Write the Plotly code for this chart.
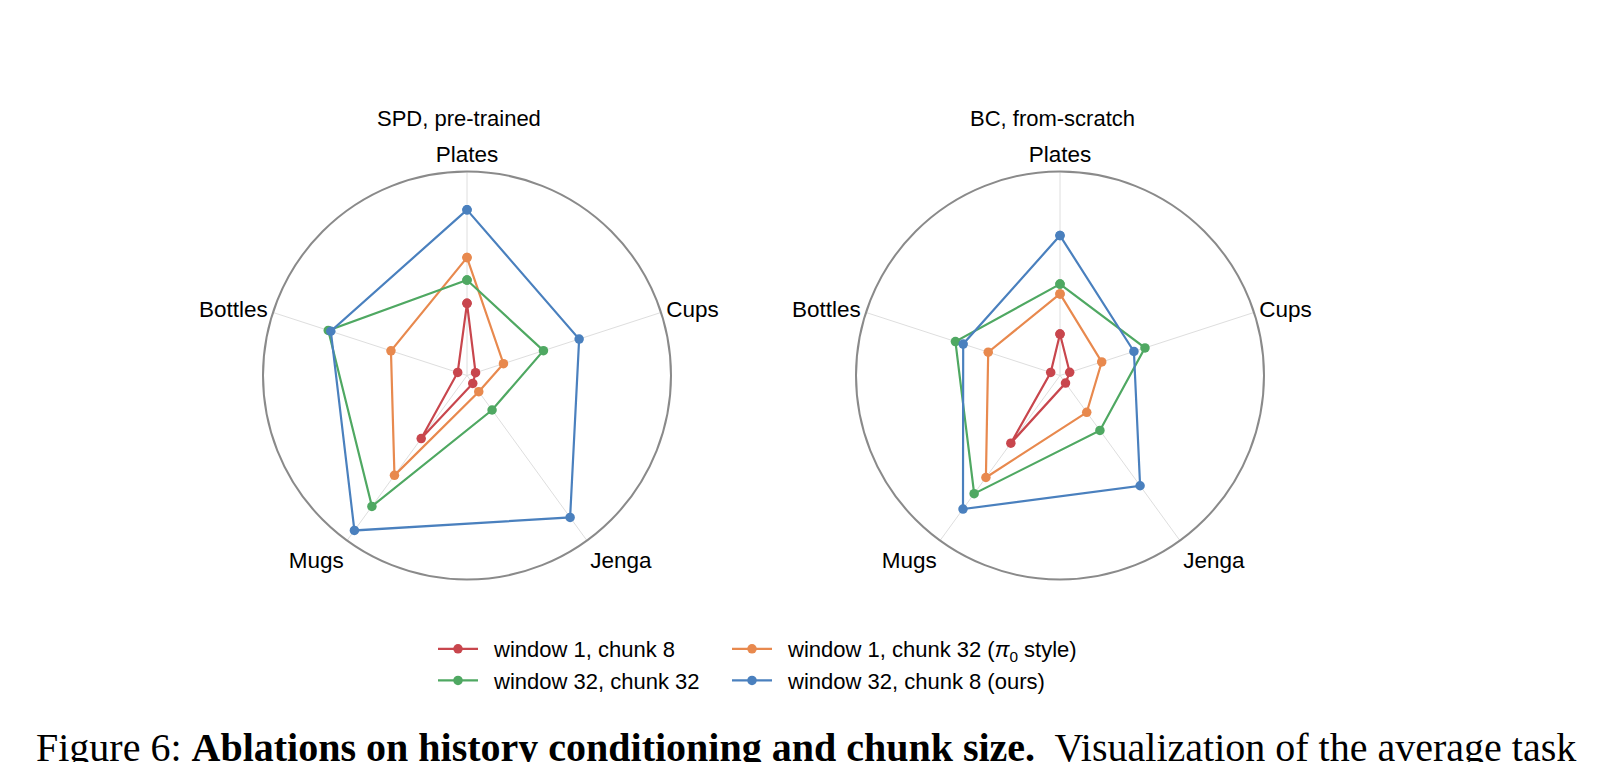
import plotly.graph_objects as go

categories = ["Plates", "Cups", "Jenga", "Mugs", "Bottles"]

series_names = [
    "window 1, chunk 8",
    "window 1, chunk 32 (<i>π</i><sub>0</sub> style)",
    "window 32, chunk 32",
    "window 32, chunk 8 (ours)",
]
series_colors = ["#c8464d", "#e8894e", "#4fa862", "#4a80be"]
series_legends = ["legend", "legend2", "legend", "legend2"]

# SPD, pre-trained
spd_red = [0.354, 0.044, 0.048, 0.382, 0.048]
spd_orange = [0.578, 0.188, 0.098, 0.605, 0.392]
spd_green = [0.468, 0.394, 0.209, 0.793, 0.715]
spd_blue = [0.812, 0.578, 0.860, 0.939, 0.702]

# BC, from-scratch
bc_red = [0.203, 0.050, 0.046, 0.410, 0.048]
bc_orange = [0.400, 0.215, 0.223, 0.618, 0.370]
bc_green = [0.448, 0.438, 0.333, 0.716, 0.539]
bc_blue = [0.686, 0.381, 0.668, 0.809, 0.499]

panel_titles = ["SPD, pre-trained", "BC, from-scratch"]
caption_html = ("Figure 6: <b>Ablations on history conditioning and chunk size.</b>"
                "  Visualization of the average task")

W, H = 1600, 762
OFF = 8  # page body margin offset
FONT = "Liberation Sans, Arial, Helvetica, sans-serif"

panels = [
    [spd_red, spd_orange, spd_green, spd_blue],
    [bc_red, bc_orange, bc_green, bc_blue],
]

fig = go.Figure()
for p, data in enumerate(panels):
    subplot = "polar" if p == 0 else "polar2"
    for i, vals in enumerate(data):
        fig.add_trace(go.Scatterpolar(
            r=vals + [vals[0]],
            theta=categories + [categories[0]],
            mode="lines+markers",
            name="\u2002" + series_names[i],
            line=dict(color=series_colors[i], width=2.2),
            marker=dict(color=series_colors[i], size=9.5),
            subplot=subplot,
            legend=series_legends[i],
            showlegend=(p == 0),
            legendrank=i,
        ))

centers_px = [(467 - OFF, 375.5 - OFF), (1060 - OFF, 375.5 - OFF)]
title_x_px = [459 - OFF, 1052 - OFF]
R = 204

def polar_layout(cx, cy):
    return dict(
        domain=dict(
            x=[(cx - R) / W, (cx + R) / W],
            y=[(H - cy - R) / H, (H - cy + R) / H],
        ),
        bgcolor="white",
        radialaxis=dict(range=[0, 1], visible=False, showgrid=False),
        angularaxis=dict(
            categoryorder="array",
            categoryarray=categories,
            direction="clockwise",
            rotation=90,
            showline=True,
            linecolor="#8a8a8a",
            linewidth=2,
            showgrid=True,
            gridcolor="#dedede",
            gridwidth=1,
            ticks="",
            tickfont=dict(family=FONT, size=22.5, color="black"),
        ),
    )

annotations = []
for tx, t in zip(title_x_px, panel_titles):
    annotations.append(dict(
        text=t, x=tx / W, y=(H - (118 - OFF)) / H, xref="paper", yref="paper",
        xanchor="center", yanchor="middle", showarrow=False,
        font=dict(family=FONT, size=22, color="black"),
    ))
annotations.append(dict(
    text=caption_html, x=(34 - OFF) / W, y=(H - (747.5 - OFF)) / H,
    xref="paper", yref="paper",
    xanchor="left", yanchor="middle", showarrow=False,
    font=dict(family="Liberation Serif, Times New Roman, serif", size=40, color="black"),
))

legend_top = (H - (628 - OFF)) / H
fig.update_layout(
    width=W, height=H,
    margin=dict(l=0, r=0, t=0, b=0),
    paper_bgcolor="white",
    plot_bgcolor="white",
    polar=polar_layout(*centers_px[0]),
    polar2=polar_layout(*centers_px[1]),
    annotations=annotations,
    legend=dict(
        x=(438 - 5 - OFF) / W, y=legend_top, xanchor="left", yanchor="top",
        orientation="v", font=dict(family=FONT, size=22, color="black"),
        bgcolor="rgba(0,0,0,0)", itemwidth=40, tracegroupgap=0,
    ),
    legend2=dict(
        x=(732 - 5 - OFF) / W, y=legend_top, xanchor="left", yanchor="top",
        orientation="v", font=dict(family=FONT, size=22, color="black"),
        bgcolor="rgba(0,0,0,0)", itemwidth=40, tracegroupgap=0,
    ),
)

fig.write_html("out.html")
